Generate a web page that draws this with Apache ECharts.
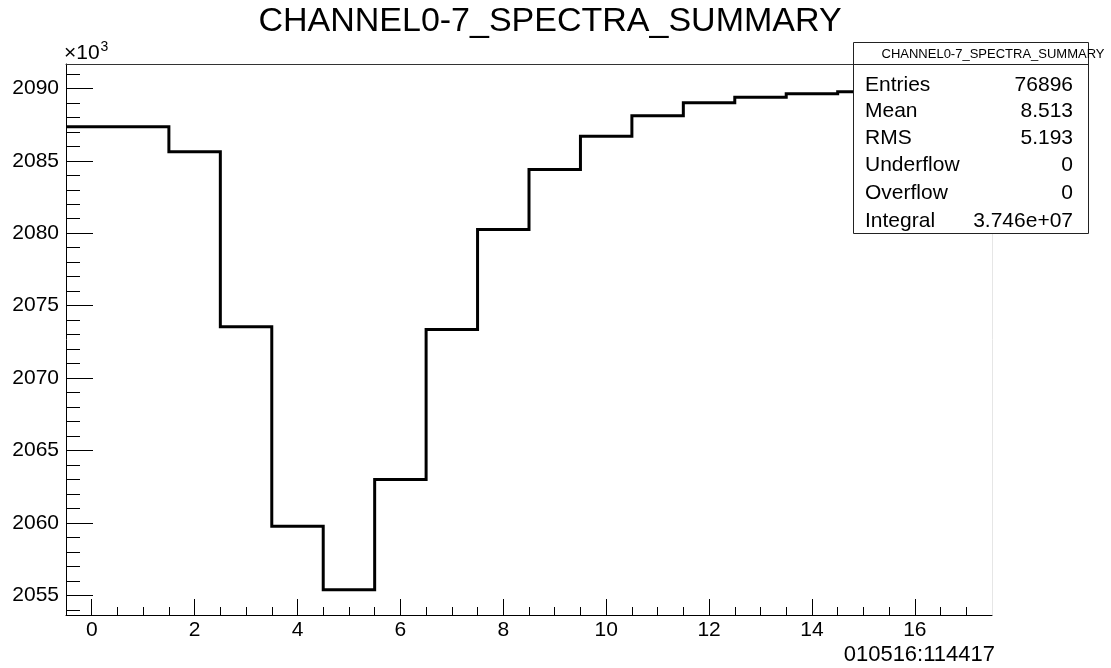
<!DOCTYPE html>
<html>
<head>
<meta charset="utf-8">
<script src="https://cdn.jsdelivr.net/npm/echarts@6/dist/echarts.min.js"></script>
<style>
html,body{margin:0;padding:0;background:#fff;}
#chart{width:1111px;height:668px;}
</style>
</head>
<body>
<div id="chart"></div>
<script>
// ---- data ----
const binCenters = [0, 1, 2, 3, 4, 5, 6, 7, 8, 9, 10, 11, 12, 13, 14, 15, 16, 17];
const binCounts = [2087350, 2087350, 2085620, 2073550, 2059770, 2055400, 2063000, 2073360, 2080260,
                   2084400, 2086700, 2088100, 2089000, 2089380, 2089630, 2089770, 2089900, 2090000];
const xMajorTicks = [0, 2, 4, 6, 8, 10, 12, 14, 16];
const yMajorTicks = [2055000, 2060000, 2065000, 2070000, 2075000, 2080000, 2085000, 2090000];
const histTitle = 'CHANNEL0-7_SPECTRA_SUMMARY';
const statsLabels = ['Entries', 'Mean', 'RMS', 'Underflow', 'Overflow', 'Integral'];
const statsValues = ['76896', '8.513', '5.193', '0', '0', '3.746e+07'];
const dateStamp = '010516:114417';

// ---- axis ranges ----
const xMin = -0.5, xMax = 17.5;
const yMin = 2053650, yMax = 2091680;
const binWidth = 1;

const xMinorTicks = [];
for (let v = 0; v <= 17.0001; v += 0.5) xMinorTicks.push(+v.toFixed(2));
const yMinorTicks = [];
for (let v = 2054000; v <= 2091000; v += 1000) yMinorTicks.push(v);

// histogram outline points: lower edges + final upper edge
const stepPoints = binCenters.map((c, i) => [c - binWidth / 2, binCounts[i]]);
stepPoints.push([binCenters[binCenters.length - 1] + binWidth / 2, binCounts[binCounts.length - 1]]);

const FONT = '"Liberation Sans", Arial, Helvetica, sans-serif';
const chart = echarts.init(document.getElementById('chart'), null, {renderer: 'canvas'});

const G = {left: 66, top: 64, right: 992, bottom: 615};

const statsGraphics = [];
const boxX = 853, boxY = 42, boxW = 235, boxH = 191;
statsGraphics.push({
  type: 'rect', z: 100,
  shape: {x: boxX + 0.5, y: boxY + 0.5, width: boxW, height: boxH},
  style: {fill: '#fff', stroke: '#222', lineWidth: 1}
});
statsGraphics.push({
  type: 'line', z: 101,
  shape: {x1: boxX, y1: 64.5, x2: boxX + boxW, y2: 64.5},
  style: {stroke: '#222', lineWidth: 1}
});
statsGraphics.push({
  type: 'text', z: 102, x: 993, y: 54,
  style: {text: histTitle, font: '13px ' + FONT, fill: '#000', textAlign: 'center', textVerticalAlign: 'middle'}
});
const rowY = [85, 111.5, 138.5, 165.5, 193, 221];
statsLabels.forEach((lab, i) => {
  statsGraphics.push({
    type: 'text', z: 102, x: 865, y: rowY[i],
    style: {text: lab, font: '21px ' + FONT, fill: '#000', textAlign: 'left', textVerticalAlign: 'middle'}
  });
  statsGraphics.push({
    type: 'text', z: 102, x: 1073, y: rowY[i],
    style: {text: statsValues[i], font: '21px ' + FONT, fill: '#000', textAlign: 'right', textVerticalAlign: 'middle'}
  });
});

const option = {
  animation: false,
  backgroundColor: '#fff',
  grid: {left: G.left, top: G.top, width: G.right - G.left, height: G.bottom - G.top, containLabel: false},
  xAxis: [
    {
      type: 'value', min: xMin, max: xMax, position: 'bottom',
      axisLine: {show: true, onZero: false, lineStyle: {color: '#000', width: 1}},
      axisTick: {show: true, inside: true, length: 16, customValues: xMajorTicks, lineStyle: {color: '#000', width: 1}},
      axisLabel: {show: true, customValues: xMajorTicks, margin: 5, color: '#000', fontSize: 21, fontFamily: FONT},
      splitLine: {show: false}
    },
    {
      type: 'value', min: xMin, max: xMax, position: 'bottom', offset: 0,
      axisLine: {show: false, onZero: false},
      axisTick: {show: true, inside: true, length: 8, customValues: xMinorTicks, lineStyle: {color: '#000', width: 1}},
      axisLabel: {show: false},
      splitLine: {show: false}
    },
    {
      type: 'value', min: xMin, max: xMax, position: 'top', offset: 0,
      axisLine: {show: true, onZero: false, lineStyle: {color: '#333', width: 1}},
      axisTick: {show: false}, axisLabel: {show: false}, splitLine: {show: false}
    }
  ],
  yAxis: [
    {
      type: 'value', min: yMin, max: yMax, position: 'left', scale: true,
      axisLine: {show: true, onZero: false, lineStyle: {color: '#000', width: 1}},
      axisTick: {show: true, inside: true, length: 27, customValues: yMajorTicks, lineStyle: {color: '#000', width: 1}},
      axisLabel: {show: true, customValues: yMajorTicks, margin: 7, color: '#000', fontSize: 21, fontFamily: FONT,
                  formatter: v => String(Math.round(v / 1000))},
      splitLine: {show: false}
    },
    {
      type: 'value', min: yMin, max: yMax, position: 'left', offset: 0, scale: true,
      axisLine: {show: false, onZero: false},
      axisTick: {show: true, inside: true, length: 14, customValues: yMinorTicks, lineStyle: {color: '#000', width: 1}},
      axisLabel: {show: false}, splitLine: {show: false}
    },
    {
      type: 'value', min: yMin, max: yMax, position: 'right', offset: 0, scale: true,
      axisLine: {show: true, onZero: false, lineStyle: {color: '#e6e6e6', width: 1}},
      axisTick: {show: false}, axisLabel: {show: false}, splitLine: {show: false}
    }
  ],
  series: [{
    type: 'line',
    xAxisIndex: 0, yAxisIndex: 0,
    data: stepPoints,
    step: 'end',
    symbol: 'none',
    clip: true,
    lineStyle: {color: '#000', width: 3, join: 'miter', cap: 'butt'},
    z: 10
  }],
  graphic: [
    {
      type: 'text', z: 50, x: 550, y: 22,
      style: {text: histTitle, font: '34px ' + FONT, fill: '#000', textAlign: 'center', textVerticalAlign: 'middle'}
    },
    {
      type: 'text', z: 50, x: 64, y: 53,
      style: {
        text: '{a|×10}{b|3}',
        textVerticalAlign: 'middle',
        rich: {
          a: {fontSize: 21, fontFamily: FONT, fill: '#000', color: '#000'},
          b: {fontSize: 14, fontFamily: FONT, fill: '#000', color: '#000', verticalAlign: 'top', padding: [0, 0, 12, 1]}
        }
      }
    },
    {
      type: 'text', z: 50, x: 995, y: 655,
      style: {text: dateStamp, font: '22px ' + FONT, fill: '#000', textAlign: 'right', textVerticalAlign: 'middle'}
    }
  ].concat(statsGraphics)
};
chart.setOption(option);
</script>
</body>
</html>
